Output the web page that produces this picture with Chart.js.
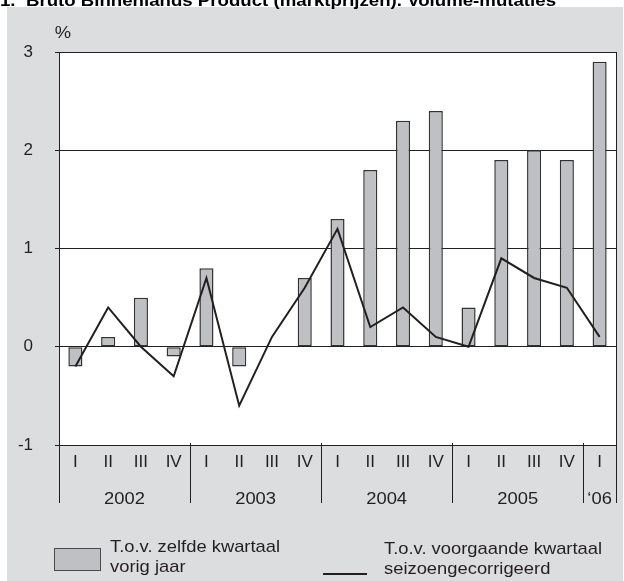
<!DOCTYPE html>
<html>
<head>
<meta charset="utf-8">
<script src="https://cdn.jsdelivr.net/npm/chart.js@4.4.1/dist/chart.umd.min.js"></script>
<style>
  html, body { margin: 0; padding: 0; background: #fff; }
  canvas { display: block; }
</style>
</head>
<body>
<canvas id="bbp-chart" width="624" height="581"></canvas>
<script>
// BBP volume-mutaties per kwartaal, 2002 - 2006 I

const title = '1.  Bruto Binnenlands Product (marktprijzen). Volume-mutaties';
const unitLabel = '%';
const quarters = ['I', 'II', 'III', 'IV', 'I', 'II', 'III', 'IV', 'I', 'II', 'III', 'IV', 'I', 'II', 'III', 'IV', 'I'];
const years = ['2002', '2003', '2004', '2005', '\u201806'];
const quartersPerYear = [4, 4, 4, 4, 1];
// t.o.v. zelfde kwartaal vorig jaar (staven)
const yearOnYear = [-0.2, 0.1, 0.5, -0.1, 0.8, -0.2, 0.0, 0.7, 1.3, 1.8, 2.3, 2.4, 0.4, 1.9, 2.0, 1.9, 2.9];
// t.o.v. voorgaande kwartaal, seizoengecorrigeerd (lijn)
const quarterOnQuarter = [-0.2, 0.4, 0.0, -0.3, 0.7, -0.6, 0.1, 0.6, 1.2, 0.2, 0.4, 0.1, 0.0, 0.9, 0.7, 0.6, 0.1];
const yTicks = [-1, 0, 1, 2, 3];
const legendBar = ['T.o.v. zelfde kwartaal', 'vorig jaar'];
const legendLine = ['T.o.v. voorgaande kwartaal', 'seizoengecorrigeerd'];

const INK = '#231f20';
const BAR_FILL = '#bfc0c4';
const PANEL = '#dcdddf';
const FONT = '"Liberation Sans", Arial, sans-serif';
const STRETCH = 1.08; // the scanned lettering is a little wider than Arial

// draw text slightly widened, x is the anchor for the given alignment
function wideText(ctx, text, x, y, align) {
  ctx.save();
  ctx.translate(x, y);
  ctx.scale(STRETCH, 1);
  ctx.textAlign = align;
  ctx.fillText(text, 0, 0);
  ctx.restore();
}

const decorations = {
  id: 'decorations',
  beforeDraw(chart) {
    const { ctx, chartArea: a } = chart;
    ctx.save();
    ctx.fillStyle = PANEL;
    ctx.fillRect(7, 7, chart.width - 8, chart.height - 7);
    ctx.fillStyle = '#fff';
    ctx.fillRect(a.left, a.top, a.right - a.left, a.bottom - a.top);
    ctx.restore();
  },
  afterDraw(chart) {
    const { ctx, chartArea: a } = chart;
    const x = chart.scales.x;
    ctx.save();

    // title, cut off at the top like the scan
    ctx.fillStyle = '#000';
    ctx.font = 'bold 17px ' + FONT;
    ctx.textBaseline = 'alphabetic';
    const tw = ctx.measureText(title).width;
    ctx.save();
    ctx.scale(556 / tw, 1);
    ctx.textAlign = 'left';
    ctx.fillText(title, 0, 6);
    ctx.restore();

    ctx.fillStyle = INK;
    ctx.font = '17px ' + FONT;
    ctx.textBaseline = 'middle';
    wideText(ctx, unitLabel, 63, 33, 'center');

    // right border
    ctx.strokeStyle = INK;
    ctx.lineWidth = 1;
    ctx.beginPath();
    ctx.moveTo(a.right + 0.5, a.top);
    ctx.lineTo(a.right + 0.5, 503);
    ctx.stroke();

    // year separators and year labels
    let start = 0;
    quartersPerYear.forEach((n, i) => {
      const x0 = x.getPixelForValue(start - 0.5);
      const x1 = x.getPixelForValue(start + n - 0.5);
      ctx.beginPath();
      ctx.moveTo(Math.round(x0) + 0.5, a.bottom - 2);
      ctx.lineTo(Math.round(x0) + 0.5, 503);
      ctx.stroke();
      wideText(ctx, years[i], (x0 + x1) / 2, 499, 'center');
      start += n;
    });

    // legend
    const bars = chart.data.datasets[1];
    const line = chart.data.datasets[0];
    ctx.fillStyle = bars.backgroundColor;
    ctx.fillRect(54, 548, 47, 23);
    ctx.strokeStyle = '#4a4a4a';
    ctx.strokeRect(54.5, 548.5, 46, 22);
    ctx.fillStyle = INK;
    bars.label.forEach((t, i) => wideText(ctx, t, 110, 547 + i * 20, 'left'));
    ctx.strokeStyle = line.borderColor;
    ctx.lineWidth = 2;
    ctx.beginPath();
    ctx.moveTo(323, 574);
    ctx.lineTo(367, 574);
    ctx.stroke();
    line.label.forEach((t, i) => wideText(ctx, t, 384, 549 + i * 20, 'left'));

    ctx.restore();
  }
};

new Chart(document.getElementById('bbp-chart'), {
  type: 'bar',
  data: {
    labels: quarters,
    datasets: [
      {
        type: 'line',
        label: legendLine,
        data: quarterOnQuarter,
        borderColor: INK,
        borderWidth: 2,
        pointRadius: 0,
        tension: 0,
        order: 0
      },
      {
        type: 'bar',
        label: legendBar,
        data: yearOnYear,
        backgroundColor: BAR_FILL,
        borderColor: '#333',
        borderWidth: 1.5,
        borderSkipped: false,
        barPercentage: 0.43,
        categoryPercentage: 1,
        order: 1
      }
    ]
  },
  options: {
    responsive: false,
    animation: false,
    layout: { padding: { top: 52, right: 8, left: 0, bottom: 0 } },
    plugins: {
      legend: { display: false },
      tooltip: { enabled: false }
    },
    scales: {
      x: {
        grid: { display: false, drawTicks: false },
        border: { display: false },
        ticks: { color: INK, font: { family: FONT, size: 17 }, padding: 7, maxRotation: 0, autoSkip: false },
        afterFit(s) { s.height = 136; }
      },
      y: {
        min: -1,
        max: 3,
        afterBuildTicks(s) { s.ticks = yTicks.map(v => ({ value: v })); },
        grid: { color: INK, lineWidth: 1, tickLength: 4 },
        border: { color: INK, width: 1 },
        ticks: { color: INK, font: { family: FONT, size: 17 }, padding: 22 },
        afterFit(s) { s.width = 59; }
      }
    }
  },
  plugins: [decorations]
});
</script>
</body>
</html>
